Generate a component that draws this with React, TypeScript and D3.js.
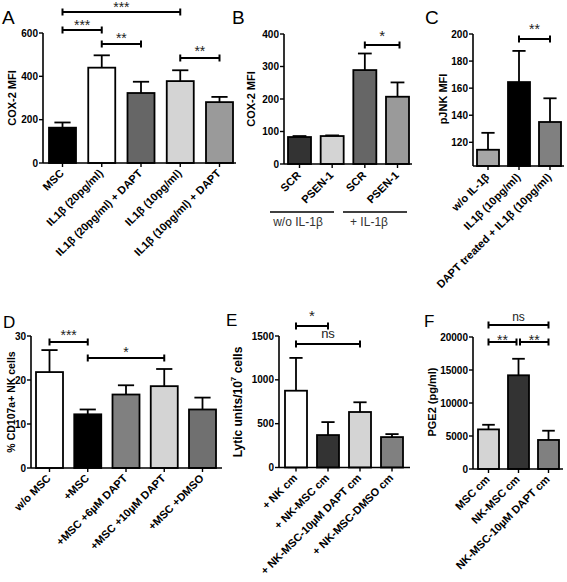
import React from "react";
import * as d3 from "d3";

// ---------- DATA ----------
const catA = ["MSC", "IL1β (20pg/ml)", "IL1β (20pg/ml) + DAPT", "IL1β (10pg/ml)", "IL1β (10pg/ml) + DAPT"];
const valA = [163, 440, 323, 378, 281];
const errA = [187, 497, 375, 428, 305];
const colA = ["#000000", "#ffffff", "#666666", "#d4d4d4", "#9a9a9a"];
const ticksA = [0, 200, 400, 600];

const catB = ["SCR", "PSEN-1", "SCR", "PSEN-1"];
const valB = [83, 86, 289, 207];
const errB = [86, 88, 340, 251];
const colB = ["#333333", "#d4d4d4", "#666666", "#9a9a9a"];
const ticksB = [0, 100, 200, 300, 400];
const groupsB = ["w/o IL-1β", "+ IL-1β"];

const catC = ["w/o IL-1β", "IL1β (10pg/ml)", "DAPT treated + IL1β (10pg/ml)"];
const valC = [114.5, 164.5, 135];
const errC = [127, 187.5, 152.5];
const colC = ["#a6a6a6", "#000000", "#808080"];
const ticksC = [120, 140, 160, 180, 200];

const catD = ["w/o MSC", "+MSC", "+MSC +6µM DAPT", "+MSC +10µM DAPT", "+MSC +DMSO"];
const valD = [21.8, 12.2, 16.7, 18.6, 13.3];
const errD = [26.8, 13.3, 18.8, 22.5, 16.0];
const colD = ["#ffffff", "#000000", "#808080", "#d4d4d4", "#707070"];
const ticksD = [0, 10, 20, 30];

const catE = ["+ NK cm", "+ NK-MSC cm", "+ NK-MSC-10µM DAPT cm", "+ NK-MSC-DMSO cm"];
const valE = [876, 370, 633, 347];
const errE = [1250, 518, 744, 381];
const colE = ["#ffffff", "#333333", "#d4d4d4", "#808080"];
const ticksE = [0, 500, 1000, 1500];

const catF = ["MSC cm", "NK-MSC cm", "NK-MSC-10µM DAPT cm"];
const valF = [6000, 14200, 4400];
const errF = [6700, 16700, 5800];
const colF = ["#d4d4d4", "#333333", "#808080"];
const ticksF = [0, 5000, 10000, 15000, 20000];

const FONT = "Arial, 'Liberation Sans', Helvetica, sans-serif";

type Bracket = { a: number; b: number; y: number; label: string; lc: number; da?: number; db?: number; fs?: number };

type PanelProps = {
  letter: string;
  lx: number;
  ly: number;
  lsize: number;
  cats: string[];
  vals: number[];
  errs: number[];
  cols: string[];
  ticks: number[];
  domain: [number, number];
  axisX: number;
  axisEnd: number;
  yBottom: number;
  yTop: number;
  barL: number;
  barR: number;
  bw: number;
  title: React.ReactNode;
  titleX: number;
  titleY: number;
  titleSize?: number;
  brackets: Bracket[];
  labelDx?: number;
  labelDy?: number;
};

function Panel(p: PanelProps) {
  const n = p.cats.length;
  const span = p.barR - p.barL;
  const pi = (span - n * p.bw) / (span - p.bw);
  const x = d3.scaleBand<number>().domain(d3.range(n)).range([p.barL, p.barR]).paddingInner(pi).paddingOuter(0);
  const y = d3.scaleLinear().domain(p.domain).range([p.yBottom, p.yTop]);
  const bw = x.bandwidth();
  const cx = (i: number) => (x(i) as number) + bw / 2;
  const cap = bw * 0.6;
  const fmt = d3.format("d");
  const ldx = p.labelDx ?? 2;
  const ldy = p.labelDy ?? 11;
  return (
    <g fontFamily={FONT}>
      <text x={p.lx} y={p.ly} fontSize={p.lsize}>{p.letter}</text>
      {/* bars */}
      {p.vals.map((v, i) => (
        <g key={i}>
          <line x1={cx(i)} x2={cx(i)} y1={y(v)} y2={y(p.errs[i])} stroke="#000" strokeWidth={1.8} />
          <line x1={cx(i) - cap / 2} x2={cx(i) + cap / 2} y1={y(p.errs[i])} y2={y(p.errs[i])} stroke="#000" strokeWidth={1.8} />
          <rect x={x(i)} y={y(v)} width={bw} height={y(p.domain[0]) - y(v)} fill={p.cols[i]} stroke="#000" strokeWidth={1.8} />
        </g>
      ))}
      {/* y axis */}
      <line x1={p.axisX} x2={p.axisX} y1={p.yTop} y2={p.yBottom} stroke="#000" strokeWidth={1.6} />
      {p.ticks.map((t) => (
        <g key={t}>
          <line x1={p.axisX - 4} x2={p.axisX} y1={y(t)} y2={y(t)} stroke="#000" strokeWidth={1.4} />
          <text x={p.axisX - 5} y={y(t)} dy="0.35em" textAnchor="end" fontSize={10} fontWeight="bold">{fmt(t)}</text>
        </g>
      ))}
      {/* x axis */}
      <line x1={p.axisX} x2={p.axisEnd} y1={p.yBottom} y2={p.yBottom} stroke="#000" strokeWidth={1.6} />
      {p.cats.map((c, i) => (
        <g key={i}>
          <line x1={cx(i)} x2={cx(i)} y1={p.yBottom} y2={p.yBottom + 4} stroke="#000" strokeWidth={1.4} />
          <text
            transform={`translate(${cx(i) + ldx},${p.yBottom + ldy}) rotate(-45)`}
            textAnchor="end"
            fontSize={11}
            fontWeight="bold"
          >
            {c}
          </text>
        </g>
      ))}
      {/* title */}
      <text
        transform={`translate(${p.titleX},${p.titleY}) rotate(-90)`}
        textAnchor="middle"
        dominantBaseline="central"
        fontSize={p.titleSize ?? 11}
        fontWeight="bold"
      >
        {p.title}
      </text>
      {/* brackets */}
      {p.brackets.map((b, k) => {
        const x1 = cx(b.a) + (b.da ?? 0);
        const x2 = cx(b.b) + (b.db ?? 0);
        const fs = b.fs ?? 14;
        const isStar = b.label.startsWith("*");
        const base = b.y + b.lc + (isStar ? 0.6 : 0.26) * fs;
        return (
          <g key={k}>
            <line x1={x1} x2={x2} y1={b.y} y2={b.y} stroke="#000" strokeWidth={2} />
            <line x1={x1} x2={x1} y1={b.y - 3.5} y2={b.y + 3.5} stroke="#000" strokeWidth={2} />
            <line x1={x2} x2={x2} y1={b.y - 3.5} y2={b.y + 3.5} stroke="#000" strokeWidth={2} />
            <text x={(x1 + x2) / 2} y={base} textAnchor="middle" fontSize={fs} fill="#222">
              {b.label}
            </text>
          </g>
        );
      })}
    </g>
  );
}

export default function App() {
  return (
    <svg width={567} height={582} style={{ position: "absolute", left: 0, top: 0, background: "#fff" }}>
      <rect width={567} height={582} fill="#fff" />
      <Panel
        letter="A" lx={2} ly={24} lsize={19}
        cats={catA} vals={valA} errs={errA} cols={colA} ticks={ticksA} domain={[0, 600]}
        axisX={43} axisEnd={236} yBottom={163} yTop={33} barL={49} barR={233} bw={27}
        title="COX-2 MFI" titleX={12} titleY={98}
        brackets={[
          { a: 0, b: 3, y: 12, label: "***", lc: -8 },
          { a: 0, b: 1, y: 30, label: "***", lc: -8 },
          { a: 1, b: 2, y: 44, label: "**", lc: -9 },
          { a: 3, b: 4, y: 58, label: "**", lc: -10 },
        ]}
      />
      <Panel
        letter="B" lx={232} ly={24} lsize={19}
        cats={catB} vals={valB} errs={errB} cols={colB} ticks={ticksB} domain={[0, 400]}
        axisX={284} axisEnd={412} yBottom={164} yTop={34} barL={288} barR={409} bw={23}
        title="COX-2 MFI" titleX={251} titleY={99}
        brackets={[{ a: 2, b: 3, y: 45, label: "*", lc: -13, fs: 15, db: 2 }]}
        labelDy={12}
      />
      <g fontFamily={FONT}>
        <line x1={270} x2={334} y1={212} y2={212} stroke="#000" strokeWidth={1.6} />
        <line x1={343} x2={407} y1={212} y2={212} stroke="#000" strokeWidth={1.6} />
        <text x={298} y={226} textAnchor="middle" fontSize={12} fill="#333">{groupsB[0]}</text>
        <text x={369} y={226} textAnchor="middle" fontSize={12} fill="#333">{groupsB[1]}</text>
      </g>
      <Panel
        letter="C" lx={425} ly={24} lsize={19}
        cats={catC} vals={valC} errs={errC} cols={colC} ticks={ticksC} domain={[102.5, 200]}
        axisX={473} axisEnd={564} yBottom={166} yTop={34} barL={477} barR={561} bw={22}
        title="pJNK MFI" titleX={443} titleY={99}
        brackets={[{ a: 1, b: 2, y: 39, label: "**", lc: -13 }]}
        labelDy={12}
      />
      <Panel
        letter="D" lx={3} ly={328} lsize={17}
        cats={catD} vals={valD} errs={errD} cols={colD} ticks={ticksD} domain={[0, 30]}
        axisX={31} axisEnd={222} yBottom={468} yTop={336} barL={36} barR={216} bw={27}
        title="% CD107a+ NK cells" titleX={11} titleY={402} titleSize={10.5}
        brackets={[
          { a: 0, b: 1, y: 342, label: "***", lc: -10 },
          { a: 1, b: 3, y: 358, label: "*", lc: -9 },
        ]}
      />
      <Panel
        letter="E" lx={226} ly={326} lsize={17}
        cats={catE} vals={valE} errs={errE} cols={colE} ticks={ticksE} domain={[0, 1500]}
        axisX={279} axisEnd={410} yBottom={467.5} yTop={336} barL={285} barR={403} bw={22}
        title={<>Lytic units/10<tspan fontSize={8} dy={-5}>7</tspan><tspan dy={5}> cells</tspan></>}
        titleX={238} titleY={402} titleSize={12}
        brackets={[
          { a: 0, b: 1, y: 326, label: "*", lc: -14, fs: 15 },
          { a: 0, b: 2, y: 344, label: "ns", lc: -9, fs: 13 },
        ]}
      />
      <Panel
        letter="F" lx={424} ly={327} lsize={17}
        cats={catF} vals={valF} errs={errF} cols={colF} ticks={ticksF} domain={[0, 20000]}
        axisX={473} axisEnd={563} yBottom={469} yTop={337} barL={478} barR={559} bw={21}
        title="PGE2 (pg/ml)" titleX={432} titleY={402}
        brackets={[
          { a: 0, b: 2, y: 325, label: "ns", lc: -7, fs: 12 },
          { a: 0, b: 1, y: 342, label: "**", lc: -5, db: -2 },
          { a: 1, b: 2, y: 342, label: "**", lc: -5, da: 1.5 },
        ]}
      />
    </svg>
  );
}
